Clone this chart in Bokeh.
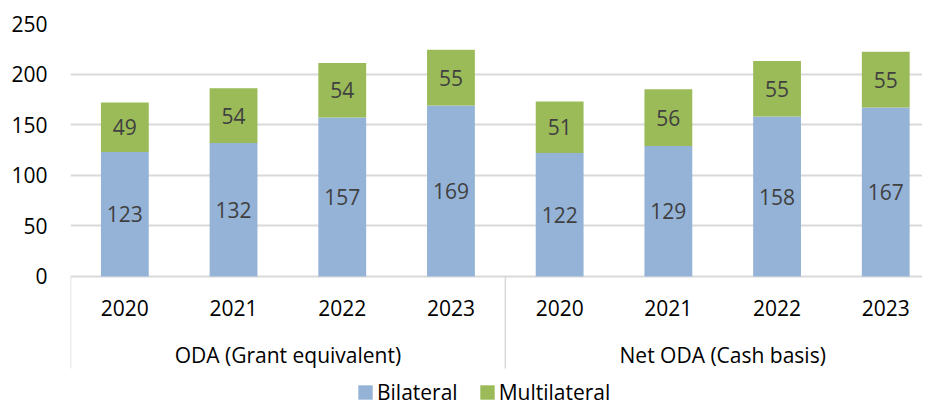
from bokeh.plotting import figure
from bokeh.models import ColumnDataSource, Range1d, FixedTicker, Legend, LegendItem
from bokeh.core.properties import value
from bokeh.embed import file_html
from bokeh.resources import INLINE

# ---- data ----
groups = ["ODA (Grant equivalent)", "Net ODA (Cash basis)"]
years = ["2020", "2021", "2022", "2023"]
bilateral = [123, 132, 157, 169, 122, 129, 158, 167]
multilateral = [49, 54, 54, 55, 51, 56, 55, 55]
y_ticks = [0, 50, 100, 150, 200, 250]

BLUE = "#95B3D7"
GREEN = "#9BBB59"
GRID = "#D9D9D9"
FONT = "Open Sans"
FS = "21px"

n_years = len(years)
xs = list(range(len(groups) * n_years))
year_labels = [y for _ in groups for y in years]
bil_mid = [b / 2 for b in bilateral]
tops = [b + m for b, m in zip(bilateral, multilateral)]
mul_mid = [b + m / 2 for b, m in zip(bilateral, multilateral)]

src = ColumnDataSource(dict(x=xs, bil=bilateral, mul=multilateral, top=tops,
                            bil_mid=bil_mid, mul_mid=mul_mid,
                            bil_txt=[str(v) for v in bilateral],
                            mul_txt=[str(v) for v in multilateral],
                            year=year_labels))

p = figure(width=922, height=406, output_backend="svg", toolbar_location=None,
           x_range=Range1d(-0.5, 7.338), y_range=Range1d(-128.5, 250),
           x_axis_location=None, min_border_left=70, min_border_right=0,
           min_border_top=23, min_border_bottom=0)
p.outline_line_color = None
p.background_fill_color = "white"
p.border_fill_color = "white"
p.xgrid.grid_line_color = None

ax = p.yaxis[0]
ax.ticker = FixedTicker(ticks=y_ticks)
ax.axis_line_color = None
ax.major_tick_line_color = None
ax.minor_tick_line_color = None
ax.major_tick_out = 0
ax.major_label_standoff = 23
ax.major_label_text_font = FONT
ax.major_label_text_font_size = FS
ax.major_label_text_color = "#000000"
p.ygrid.grid_line_color = GRID
p.ygrid.grid_line_width = 2

r_bil = p.vbar(x="x", bottom=0, top="bil", width=0.44, source=src,
               fill_color=BLUE, line_color=None)
r_mul = p.vbar(x="x", bottom="bil", top="top", width=0.44, source=src,
               fill_color=GREEN, line_color=None)

p.text(x="x", y="bil_mid", text="bil_txt", source=src, text_align="center",
       text_baseline="middle", text_font=value(FONT), text_font_size=value(FS),
       text_color="#404040")
p.text(x="x", y="mul_mid", text="mul_txt", source=src, text_align="center",
       text_baseline="middle", text_font=value(FONT), text_font_size=value(FS),
       text_color="#404040")

# category axis (years and groups) drawn below zero
p.text(x="x", y=-31, text="year", source=src, text_align="center",
       text_baseline="middle", text_font=value(FONT), text_font_size=value(FS),
       text_color="#000000")
g_centers = [gi * n_years + (n_years - 1) / 2 for gi in range(len(groups))]
p.text(x=g_centers, y=[-78] * len(groups), text=groups, text_align="center",
       text_baseline="middle", text_font=value(FONT), text_font_size=value(FS),
       text_color="#000000")
sep_x = [gi * n_years - 0.5 for gi in range(len(groups) + 1)]
p.segment(x0=sep_x, y0=[0] * len(sep_x), x1=sep_x, y1=[-91] * len(sep_x),
          line_color=GRID, line_width=1.5)

legend = Legend(items=[LegendItem(label="Bilateral", renderers=[r_bil]),
                       LegendItem(label="Multilateral", renderers=[r_mul])],
                location=(286, 0), orientation="horizontal",
                glyph_width=18, glyph_height=18, label_standoff=3, spacing=20,
                padding=0, margin=0, border_line_color=None,
                background_fill_alpha=0, label_text_font=FONT,
                label_text_font_size=FS, label_text_color="#000000")
p.add_layout(legend)

open("out.html", "w").write(file_html(p, INLINE))
